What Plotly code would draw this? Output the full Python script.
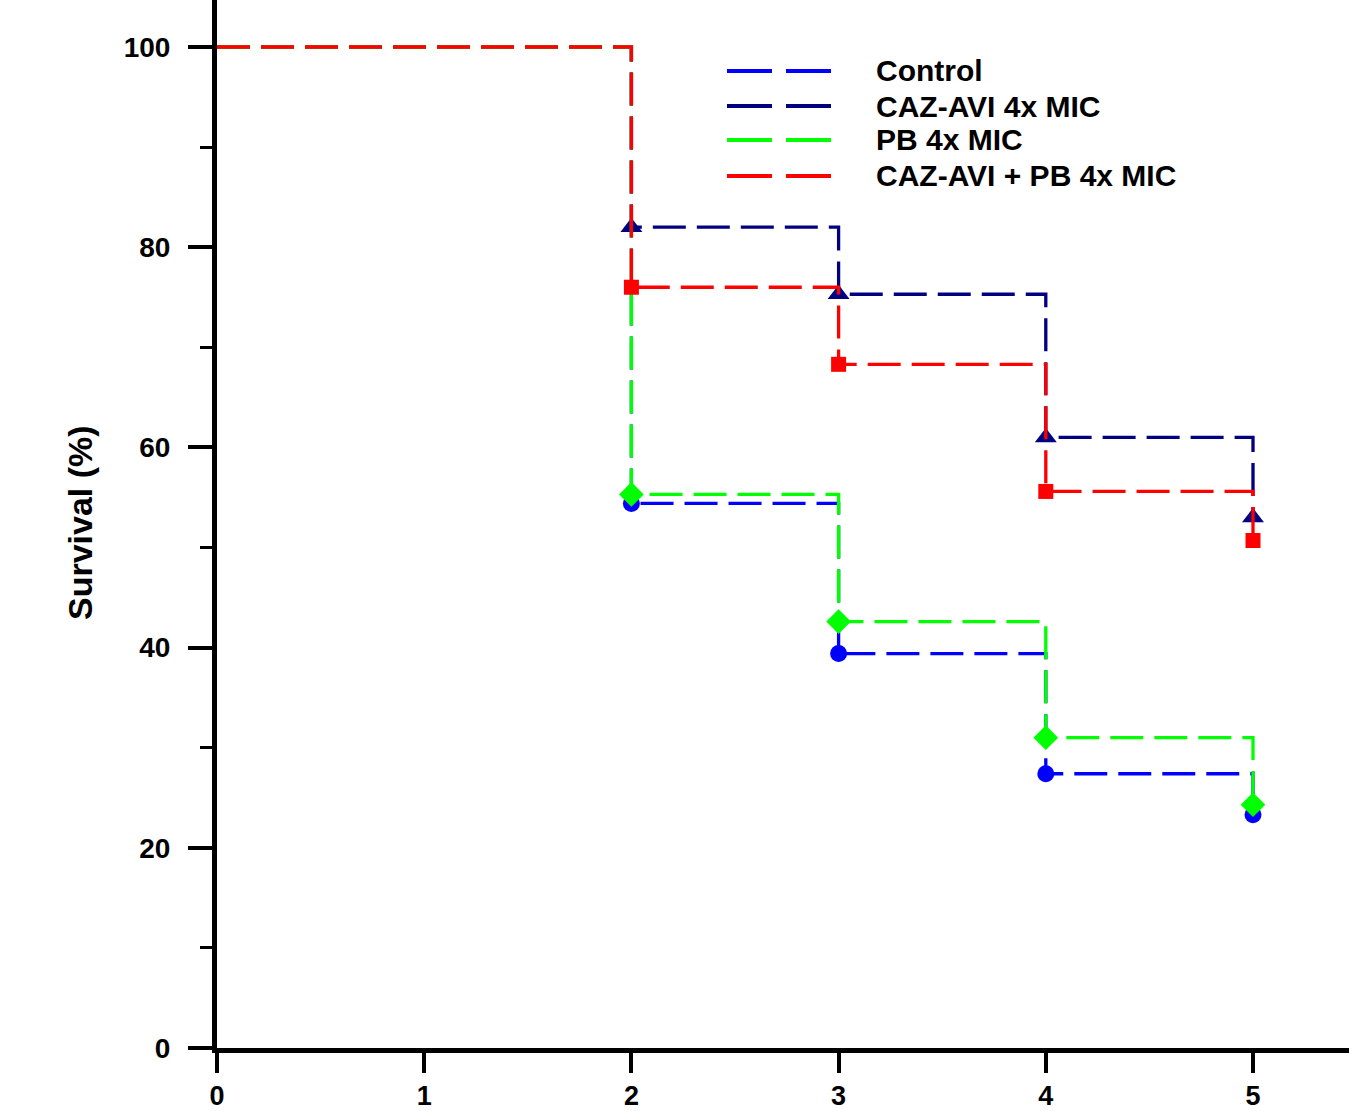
import plotly.graph_objects as go

# ---- data ----
days = [0, 2, 3, 4, 5]
control = [100, 54.4, 39.4, 27.4, 23.3]
caz_avi = [100, 82.0, 75.3, 61.0, 53.0]
pb = [100, 55.3, 42.6, 31.0, 24.3]
combo = [100, 76.0, 68.3, 55.6, 50.7]

series_names = ["Control", "CAZ-AVI 4x MIC", "PB 4x MIC", "CAZ-AVI + PB 4x MIC"]
series_values = [control, caz_avi, pb, combo]
colors = ["#0000FF", "#000080", "#00FF00", "#FF0000"]
symbols = ["circle", "triangle-up", "diamond", "square"]
msizes = [17, 19, 19, 15]

x_ticks = [0, 1, 2, 3, 4, 5]
y_ticks = [0, 20, 40, 60, 80, 100]

FONT = "Arial, 'Liberation Sans', sans-serif"

fig = go.Figure()
for name, vals, col, sym, ms in zip(series_names, series_values, colors, symbols, msizes):
    fig.add_trace(go.Scatter(
        x=days, y=vals, mode="lines", line_shape="hv",
        line=dict(color=col, width=3.3, dash="33px,11px"),
        name=name, showlegend=False, hoverinfo="skip", cliponaxis=False))
    fig.add_trace(go.Scatter(
        x=days[1:], y=vals[1:], mode="markers",
        marker=dict(symbol=sym, size=ms, color=col, line=dict(width=0)),
        name=name, showlegend=False, cliponaxis=False))

W, H = 1349, 1111
ml, mr, mt, mb = 217, 0, 0, 63
pw, ph = W - ml - mr, H - mt - mb
x_per_unit = 207.2
y_per_unit = 10.01

fig.update_layout(
    width=W, height=H,
    margin=dict(l=ml, r=mr, t=mt, b=mb, autoexpand=False),
    paper_bgcolor="white", plot_bgcolor="white",
    font=dict(family=FONT, size=26, color="black", weight="bold"),
)
fig.update_xaxes(
    range=[0, pw / x_per_unit], tickvals=x_ticks, ticktext=[str(v) for v in x_ticks],
    showgrid=False, zeroline=False, showline=True, linewidth=5, linecolor="black",
    ticks="outside", ticklen=20, tickwidth=4, tickcolor="black", automargin=False,
    tickfont=dict(family=FONT, size=27, weight="bold"), ticklabelstandoff=0,
)
fig.update_yaxes(
    range=[0, ph / y_per_unit], tickvals=y_ticks, ticktext=[str(v) for v in y_ticks],
    showgrid=False, zeroline=False, showline=True, linewidth=5, linecolor="black",
    ticks="outside", ticklen=24, tickwidth=4, tickcolor="black", automargin=False,
    minor=dict(dtick=10, tick0=0, ticks="outside", ticklen=12, tickwidth=3, tickcolor="black"),
    tickfont=dict(family=FONT, size=28, weight="bold"), ticklabelstandoff=12,
)

# y axis title
fig.add_annotation(
    text="Survival (%)", textangle=-90, xref="paper", yref="paper",
    x=(80 - ml) / pw, y=(1048 - 523) / ph, showarrow=False,
    font=dict(family=FONT, size=34, weight="bold"), xanchor="center", yanchor="middle")

# custom legend
legend_y_px = [71, 106, 140, 176]
for name, col, ypx in zip(series_names, colors, legend_y_px):
    yp = (1048 - ypx) / ph
    fig.add_shape(type="line", xref="paper", yref="paper",
                  x0=(727 - ml) / pw, x1=(831 - ml) / pw, y0=yp, y1=yp,
                  line=dict(color=col, width=4, dash="45px,14px"))
    fig.add_annotation(text=name, xref="paper", yref="paper",
                       x=(874 - ml) / pw, y=yp, showarrow=False,
                       xanchor="left", yanchor="middle",
                       font=dict(family=FONT, size=30, weight="bold"))

fig.write_html("out.html")
